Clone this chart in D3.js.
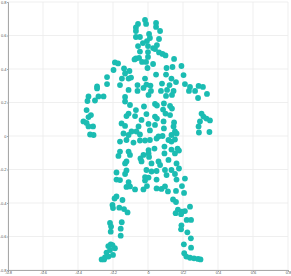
<!DOCTYPE html>
<html><head><meta charset="utf-8">
<script src="https://cdn.jsdelivr.net/npm/d3@7"></script>
<style>html,body{margin:0;padding:0;background:#fff;}svg{display:block;}</style>
</head><body>
<svg id="c" width="291" height="276"></svg>
<script>
const xTicks = [-0.8,-0.6,-0.4,-0.2,0,0.2,0.4,0.6,0.8];
const yTicks = [-0.8,-0.6,-0.4,-0.2,0,0.2,0.4,0.6,0.8];
const xs = [
-0.017,-0.011,-0.057,-0.069,0.046,0.046,-0.069,0.069,0.006,-0.069,
-0.046,0.063,0.011,-0.006,-0.029,-0.057,0.051,0,0.029,-0.046,
0,0.04,0.063,0.083,0.1,-0.069,-0.051,0,-0.034,-0.011,
0.029,-0.077,-0.189,-0.171,-0.197,-0.137,-0.106,-0.131,-0.234,-0.149,
-0.111,-0.097,-0.16,-0.234,-0.291,-0.291,-0.34,-0.283,-0.254,-0.131,
-0.346,-0.303,0.149,-0.003,0.106,0.14,0.191,0.103,0.046,-0.017,
0.134,0.203,0.16,0.211,-0.009,-0.06,0.014,0.08,0.123,-0.111,
-0.06,-0.026,0.017,0.074,0.109,0.146,0.003,0.103,0.137,0.24,
0.289,0.314,0.234,0.269,0.337,0.286,-0.351,-0.326,-0.34,-0.369,
-0.351,-0.34,-0.314,-0.331,-0.311,0.306,0.317,0.334,0.354,0.297,
0.289,0.291,0.351,-0.131,-0.103,-0.023,0.04,0.051,0.091,0.126,
0.137,0.086,-0.069,-0.111,-0.123,-0.074,-0.009,0.04,0.051,0.1,
0.126,-0.037,0.003,0.04,0.089,0.149,-0.151,-0.131,-0.054,0.011,
0.091,0.146,0.154,-0.066,-0.094,-0.14,-0.111,-0.046,0.06,0.083,
0.134,0.163,-0.123,-0.16,-0.083,-0.046,-0.017,0.011,0.049,0.117,
0.134,0.154,0.037,0.003,0.094,0.134,0.169,0.177,-0.16,-0.169,
-0.111,-0.103,-0.026,0.003,0.094,0.154,-0.043,0.006,-0.123,-0.131,
-0.037,0.02,0.06,0.069,0.117,0.163,-0.18,-0.123,-0.131,-0.009,
0.02,0.049,0.097,0.134,0.177,0.106,0.154,-0.017,-0.017,0.003,
-0.18,-0.16,-0.111,0.049,0.163,0.211,-0.123,-0.103,-0.074,-0.026,
-0.006,0.049,0.077,0.097,0.114,0.16,0.194,0.206,-0.18,-0.191,
-0.146,-0.203,-0.2,-0.164,-0.137,-0.117,0.143,0.16,0.24,0.211,
0.194,0.171,0.158,0.189,-0.217,-0.211,-0.15,-0.213,-0.156,-0.156,
0.221,0.246,0.191,0.189,0.225,0.245,0.205,0.246,-0.213,-0.227,
-0.189,-0.217,-0.237,-0.2,-0.246,-0.265,-0.226,0.207,0.219,0.24,
0.263,0.286,0.3,-0.251,-0.203
];
const ys = [
0.693,0.669,0.669,0.648,0.675,0.651,0.627,0.627,0.609,0.591,
0.591,0.579,0.585,0.567,0.555,0.537,0.543,0.537,0.525,0.504,
0.501,0.519,0.499,0.49,0.481,0.463,0.466,0.472,0.442,0.442,
0.43,0.457,0.439,0.433,0.394,0.403,0.388,0.373,0.352,0.343,
0.343,0.349,0.304,0.31,0.296,0.284,0.236,0.236,0.236,0.233,
0.209,0.212,0.46,0.406,0.406,0.412,0.418,0.367,0.367,0.343,
0.343,0.364,0.322,0.31,0.307,0.304,0.301,0.313,0.304,0.275,
0.269,0.287,0.269,0.269,0.275,0.269,0.245,0.239,0.245,0.293,
0.299,0.293,0.269,0.269,0.251,0.227,0.155,0.125,0.113,0.087,
0.078,0.057,0.057,0.009,0.006,0.134,0.116,0.104,0.093,0.087,
0.057,0.021,0.024,0.206,0.185,0.176,0.191,0.182,0.194,0.179,
0.164,0.158,0.155,0.134,0.119,0.119,0.131,0.116,0.104,0.134,
0.125,0.096,0.072,0.066,0.087,0.081,0.075,0.06,0.057,0.033,
0.045,0.057,0.027,0.027,0.027,0.015,0.006,0.009,-0.003,0,
0.006,0.015,-0.024,-0.033,-0.039,-0.027,-0.027,-0.024,-0.015,-0.024,
-0.033,-0.021,-0.075,-0.084,-0.063,-0.081,-0.075,-0.087,-0.093,-0.119,
-0.093,-0.113,-0.113,-0.104,-0.104,-0.104,-0.134,-0.125,-0.152,-0.164,
-0.152,-0.164,-0.152,-0.173,-0.143,-0.164,-0.218,-0.206,-0.227,-0.203,
-0.212,-0.209,-0.203,-0.203,-0.194,-0.233,-0.227,-0.245,-0.266,-0.248,
-0.26,-0.263,-0.275,-0.26,-0.26,-0.254,-0.304,-0.301,-0.319,-0.319,
-0.299,-0.313,-0.316,-0.301,-0.331,-0.328,-0.299,-0.34,-0.361,-0.373,
-0.382,-0.412,-0.43,-0.428,-0.436,-0.456,-0.379,-0.394,-0.422,-0.448,
-0.452,-0.439,-0.461,-0.467,-0.519,-0.541,-0.515,-0.571,-0.553,-0.595,
-0.501,-0.501,-0.533,-0.557,-0.575,-0.611,-0.647,-0.667,-0.647,-0.657,
-0.67,-0.681,-0.696,-0.71,-0.725,-0.737,-0.72,-0.7,-0.72,-0.727,
-0.73,-0.734,-0.737,-0.737,-0.651
];
const pointColor = "#1bbcb2";

const svg = d3.select("#c");
const m = {left: 8, right: 3, top: 2, bottom: 6};
const W = 291, H = 276;
const x = d3.scaleLinear().domain([-0.8, 0.8]).range([m.left, W - m.right]);
const y = d3.scaleLinear().domain([-0.8, 0.8]).range([H - m.bottom, m.top]);

// grid
const g = svg.append("g");
g.selectAll("line.vx").data(xTicks).join("line")
  .attr("x1", d => x(d)).attr("x2", d => x(d))
  .attr("y1", y(-0.8)).attr("y2", y(0.8))
  .attr("stroke", "#ebebeb").attr("stroke-width", 0.8);
g.selectAll("line.hy").data(yTicks).join("line")
  .attr("y1", d => y(d)).attr("y2", d => y(d))
  .attr("x1", x(-0.8)).attr("x2", x(0.8))
  .attr("stroke", "#ebebeb").attr("stroke-width", 0.8);

const fmt = d => d === 0 ? "0" : d3.format(".1f")(d).replace("−", "-");

const xAxis = d3.axisBottom(x).tickValues(xTicks).tickSize(2).tickFormat(fmt);
const yAxis = d3.axisLeft(y).tickValues(yTicks).tickSize(1).tickFormat(fmt);

const gx = svg.append("g").attr("transform", `translate(0,${y(-0.8)})`).call(xAxis);
const gy = svg.append("g").attr("transform", `translate(${x(-0.8)},0)`).call(yAxis);
[gx, gy].forEach(a => {
  a.select(".domain").attr("stroke", "#a8a8a8").attr("stroke-width", 1);
  a.selectAll(".tick line").attr("stroke", "#a8a8a8");
  a.selectAll(".tick text").attr("fill", "#555").style("font-family", "Arial, 'Liberation Sans', sans-serif").style("font-size", "4px");
});
gx.selectAll(".tick text").attr("dy", "0.5em").attr("y", 2);
gy.selectAll(".tick text").attr("x", -1.5);

// points
svg.append("g").selectAll("circle").data(xs.map((v, i) => [v, ys[i]])).join("circle")
  .attr("cx", d => x(d[0])).attr("cy", d => y(d[1]))
  .attr("r", 2.9).attr("fill", pointColor);
</script>
</body></html>
